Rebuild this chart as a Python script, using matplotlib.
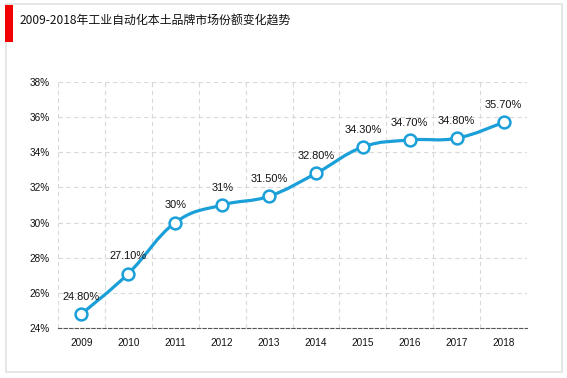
import matplotlib
matplotlib.use("Agg")
import matplotlib.pyplot as plt
from matplotlib.patches import Rectangle, PathPatch
from matplotlib.path import Path

# data
years = ["2009", "2010", "2011", "2012", "2013", "2014", "2015", "2016", "2017", "2018"]
share = [24.8, 27.1, 30.0, 31.0, 31.5, 32.8, 34.3, 34.7, 34.8, 35.7]
labels = ["24.80%", "27.10%", "30%", "31%", "31.50%", "32.80%", "34.30%", "34.70%", "34.80%", "35.70%"]
yticks = [24, 26, 28, 30, 32, 34, 36, 38]
title = "2009-2018年工业自动化本土品牌市场份额变化趋势"

BLUE = "#1a9fd9"
W, H = 567, 378


def smooth_path(xs, ys, s=0.2):
    # cubic bezier through the points (catmull-rom style)
    n = len(xs)
    verts = [(xs[0], ys[0])]
    codes = [Path.MOVETO]
    for i in range(n - 1):
        x0, y0 = xs[max(i - 1, 0)], ys[max(i - 1, 0)]
        x1, y1 = xs[i], ys[i]
        x2, y2 = xs[i + 1], ys[i + 1]
        x3, y3 = xs[min(i + 2, n - 1)], ys[min(i + 2, n - 1)]
        c1 = (x1 + (x2 - x0) * s, y1 + (y2 - y0) * s)
        c2 = (x2 - (x3 - x1) * s, y2 - (y3 - y1) * s)
        verts += [c1, c2, (x2, y2)]
        codes += [Path.CURVE4] * 3
    return Path(verts, codes)


fig = plt.figure(figsize=(W / 100, H / 100), dpi=100)
fig.patch.set_facecolor("white")

# outer frame + header
fig.add_artist(Rectangle((6 / W, 1 - 372 / H), 556 / W, 368 / H, transform=fig.transFigure,
                         fill=False, edgecolor="#e2e2e2", linewidth=1.2))
fig.add_artist(Rectangle((5 / W, 1 - 42 / H), 8 / W, 37 / H, transform=fig.transFigure,
                         facecolor="#f20000", edgecolor="none"))
fig.text(20 / W, 1 - 21 / H, title, fontsize=8.6, va="center", ha="left",
         family=["Noto Sans CJK SC", "DejaVu Sans"], color="#111111")

ax = fig.add_axes([58 / W, 1 - 328 / H, 469 / W, 246 / H])
x = list(range(len(years)))

ax.add_patch(PathPatch(smooth_path(x, share), facecolor="none", edgecolor=BLUE,
                       linewidth=2.3, zorder=3, capstyle="round"))
ax.plot(x, share, linestyle="none", marker="o", markersize=8.5, markerfacecolor="white",
        markeredgecolor=BLUE, markeredgewidth=1.8, zorder=4)

for xi, yi, lab in zip(x, share, labels):
    ax.annotate(lab, (xi, yi), xytext=(0, 12.5), textcoords="offset points",
                ha="center", va="center", fontsize=7.9, family="Liberation Sans", color="#111111")

ax.set_xlim(-0.5, len(years) - 0.5)
ax.set_ylim(24, 38)
ax.set_yticks(yticks)
ax.set_yticklabels([f"{t}%" for t in yticks], family="Liberation Sans", fontsize=7.2)
ax.set_xticks(x)
ax.set_xticklabels(years, family="Liberation Sans", fontsize=7.2)
ax.set_xticks([i - 0.5 for i in range(len(years) + 1)], minor=True)
ax.tick_params(axis="both", which="both", length=0, colors="#111111")
ax.tick_params(axis="y", pad=6)
ax.tick_params(axis="x", pad=7)

ax.grid(True, axis="y", which="major", linestyle=(0, (4, 3)), color="#d9d9d9", linewidth=0.8)
ax.grid(True, axis="x", which="minor", linestyle=(0, (4, 3)), color="#d9d9d9", linewidth=0.8)
ax.grid(False, axis="x", which="major")
for side in ("left", "right", "top"):
    ax.spines[side].set_visible(False)
ax.spines["bottom"].set_linestyle((0, (3, 2)))
ax.spines["bottom"].set_color("#555555")
ax.spines["bottom"].set_linewidth(0.8)
ax.set_axisbelow(True)

fig.savefig("out.png", dpi=100)
